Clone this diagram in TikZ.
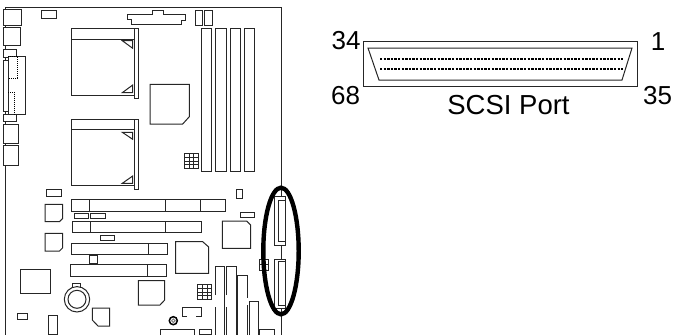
\documentclass[tikz,border=0pt]{standalone}
\usepackage{fontspec}
\setmainfont{Liberation Sans}

\tikzset{
	board/.style={line width=1pt, draw=black!85},
	ring/.style={line width=4.4pt, draw=black},
	pin/.style={line width=2.2pt, dash pattern=on 2.4pt off 1.2pt},
	label/.style={inner sep=0pt, font=\fontsize{26}{26}\selectfont}
}

\begin{document}
\begin{tikzpicture}[x=1pt, y=-1pt]
	\useasboundingbox (0,0) rectangle (674,335);

	% board outline
	\draw[board] (5.7,7) -- (281,7) -- (281,335);
	\draw[board] (5.7,7) -- (5.7,335);

	% back panel
	\draw[board, fill=white] (3.5,9) rectangle (21.5,25);
	\draw[board, fill=white] (3.5,27) rectangle (20,45);
	\draw[board, fill=white] (3.5,49) rectangle (16.5,57);
	\draw[board, fill=white] (3.5,114) rectangle (16.5,121.5);
	\draw[board, fill=white] (8,56) rectangle (25.5,114.5);
	\draw[board, fill=white] (3.5,60) rectangle (8,111);
	\draw[densely dotted, line width=1pt] (8,56) -- (17,56) -- (17,78) -- (8,78);
	\draw[densely dotted, line width=1pt] (8,92) -- (14.5,92) -- (14.5,114);
	\draw[board, fill=white] (3.5,124) rectangle (18.5,143);
	\draw[board, fill=white] (3.5,145) rectangle (18.5,165);
	\draw[board] (41.7,10.3) rectangle (56.7,18.3);

	% power connector
	\draw[board] (127.3,14) -- (152.3,14) -- (152.3,10.7) -- (163.3,10.7) -- (163.3,14) -- (185,14) -- (185,20) -- (181,20) -- (181,24.3) -- (131.7,24.3) -- (131.7,19.3) -- (127.3,19.3) -- cycle;
	\draw[board] (195,10) rectangle (202.7,25.7);
	\draw[board] (204,10) rectangle (212.3,25.7);

	% cpu slots
	\draw[board] (71.7,28) rectangle (134,95);
	\draw[board] (71.7,39) -- (134,39);
	\draw[board, fill=white] (134,28) rectangle (138.3,98.7);
	\draw[board] (122.3,40.7) -- (132.7,40.7) -- (132.7,48.3) -- cycle;
	\draw[board] (122.3,92.7) -- (132.7,85) -- (132.7,92.7) -- cycle;
	\draw[board] (71.7,119) rectangle (134,185.7);
	\draw[board] (71.7,129.7) -- (134,129.7);
	\draw[board, fill=white] (134,119) rectangle (138.3,189);
	\draw[board] (122.3,132.3) -- (132.7,132.3) -- (132.7,139.3) -- cycle;
	\draw[board] (122.3,183.3) -- (132.7,176) -- (132.7,183.3) -- cycle;

	% chips
	\draw[board] (150,84.3) -- (189.3,84.3) -- (189.3,116.7) -- (182.7,124) -- (150,124) -- cycle;
	\draw[board] (45,204.3) -- (62.7,204.3) -- (62.7,218.5) -- (59.5,221.7) -- (45,221.7) -- cycle;
	\draw[board] (45,233.3) -- (62.7,233.3) -- (62.7,247.8) -- (59.5,251) -- (45,251) -- cycle;
	\draw[board] (20,269.3) rectangle (50.7,293);
	\draw[board] (138.3,280.7) -- (164.7,280.7) -- (164.7,300) -- (160,305) -- (138.3,305) -- cycle;
	\draw[board] (92.3,308) -- (109.7,308) -- (109.7,326) -- (98,326) -- (92.3,320) -- cycle;
	\draw[board] (175.7,241.7) -- (202.7,241.7) -- (208.7,247) -- (208.7,273.3) -- (175.7,273.3) -- cycle;
	\draw[board] (222.3,221) -- (246.7,221) -- (250.7,225) -- (250.7,248.3) -- (222.3,248.3) -- cycle;

	% memory sockets
	\foreach \xa/\xb in {201.7/211.7, 215.7/226.3, 230/240.3, 244.3/254.3} {
		\draw[board] (\xa,28.3) rectangle (\xb,171.7);
	}

	% small parts
	\draw[board] (184,153) rectangle (198,168);
	\foreach \ya in {157,161,164.5} { \draw[board] (184,\ya) -- (198,\ya); }
	\foreach \xa in {189,193.5} { \draw[board] (\xa,153) -- (\xa,168); }
	\draw[board] (197.7,284) rectangle (211.7,299);
	\foreach \ya in {288,292,295.5} { \draw[board] (197.7,\ya) -- (211.7,\ya); }
	\foreach \xa in {202.7,207.2} { \draw[board] (\xa,284) -- (\xa,299); }
	\draw[board] (46,189) rectangle (61.7,196.7);
	\draw[board] (74,213.3) rectangle (88,218.3);
	\draw[board] (90.7,213.3) rectangle (105,218.3);
	\draw[board] (100,235.3) rectangle (114.3,240.7);
	\draw[board] (89.7,255.7) rectangle (97.7,263.3);
	\draw[board] (236.7,189) rectangle (242.7,198.3);
	\draw[board] (240.7,212.3) rectangle (254.7,217.7);
	\draw[board] (17.7,313.3) rectangle (27.7,319);
	\draw[board] (48.3,315) rectangle (57.3,334);

	% pci and isa slots
	\draw[board] (71.7,199.3) rectangle (225,211.3);
	\draw[board] (89.3,199.3) -- (89.3,211.3);
	\draw[board] (165.3,199.3) -- (165.3,211.3);
	\draw[board] (200.7,199.3) -- (200.7,211.3);
	\draw[board] (72.3,221.3) rectangle (201.7,232.7);
	\draw[board] (90,221.3) -- (90,232.7);
	\draw[board] (165.3,221.3) -- (165.3,232.7);
	\draw[board] (71.3,243) rectangle (167.3,254.3);
	\draw[board] (148.3,243) -- (148.3,254.3);
	\draw[board] (70.7,264.7) rectangle (166.7,276.3);
	\draw[board] (147.3,264.7) -- (147.3,276.3);

	% battery
	\draw[board] (72.3,283.3) rectangle (80.7,288.3);
	\draw[board, fill=white] (77,299.3) circle (12.7);
	\draw[board] (77,299.3) circle (9);

	% bottom parts
	\draw[board] (187,316) -- (182,316) -- (182,307.7) -- (201.7,307.7) -- (201.7,316) -- (196,316);
	\draw[line width=1.5pt] (173.3,320.7) circle (4);
	\draw[line width=1pt, draw=black!50] (173.3,320.7) circle (1.8);
	\draw[board] (160,335) -- (160,329) -- (194.3,329) -- (194.3,335);
	\draw[board] (199,335) -- (199,329.3) -- (211.7,329.3) -- (211.7,335);
	\draw[board] (199,334) -- (211.7,334);
	\draw[board] (215,295) -- (215,266) -- (224,266) -- (224,335);
	\draw[board] (215,307) -- (215,335);
	\draw[board] (226.3,295) -- (226.3,266) -- (236,266) -- (236,335);
	\draw[board] (226.3,307) -- (226.3,335);
	\draw[board] (237.7,335) -- (237.7,275) -- (247.7,275) -- (247.7,298);
	\draw[board] (247.7,305) -- (247.7,335);
	\draw[board] (249,335) -- (249,301) -- (258.7,301) -- (258.7,335);
	\draw[board] (259.3,335) -- (259.3,329) -- (274.3,329) -- (274.3,335);

	% scsi headers
	\draw[board, fill=white] (274.3,196.7) rectangle (285,245);
	\draw[board] (278.3,200) rectangle (285,241.7);
	\draw[board, fill=white] (274.3,259.3) rectangle (285,308);
	\draw[board] (278.3,261.7) rectangle (285,305);
	\draw[board] (259.3,259.3) rectangle (268.7,270.3);
	\draw[board] (259.3,264.5) -- (268.7,264.5);
	\draw[board] (263.5,259.3) -- (263.5,270.3);
	\draw[ring] (281,251) ellipse (17.7 and 63.3);

	% port drawing
	\draw[board] (363.7,41.7) rectangle (637.7,86);
	\draw[board] (368,48) -- (632,48) -- (622,80) -- (379,80) -- cycle;
	\draw[pin] (380,59.3) -- (623,59.3);
	\draw[pin] (380,69.3) -- (623,69.3);

	% labels
	\node[label] (num34) at (346,41) {34};
	\node[label] (num1) at (658,42) {1};
	\node[label] (num68) at (345.5,96) {68};
	\node[label] (num35) at (657.5,96) {35};
	\node[label, font=\fontsize{27.5}{27.5}\selectfont] (name) at (508.5,105) {SCSI Port};
\end{tikzpicture}
\end{document}
